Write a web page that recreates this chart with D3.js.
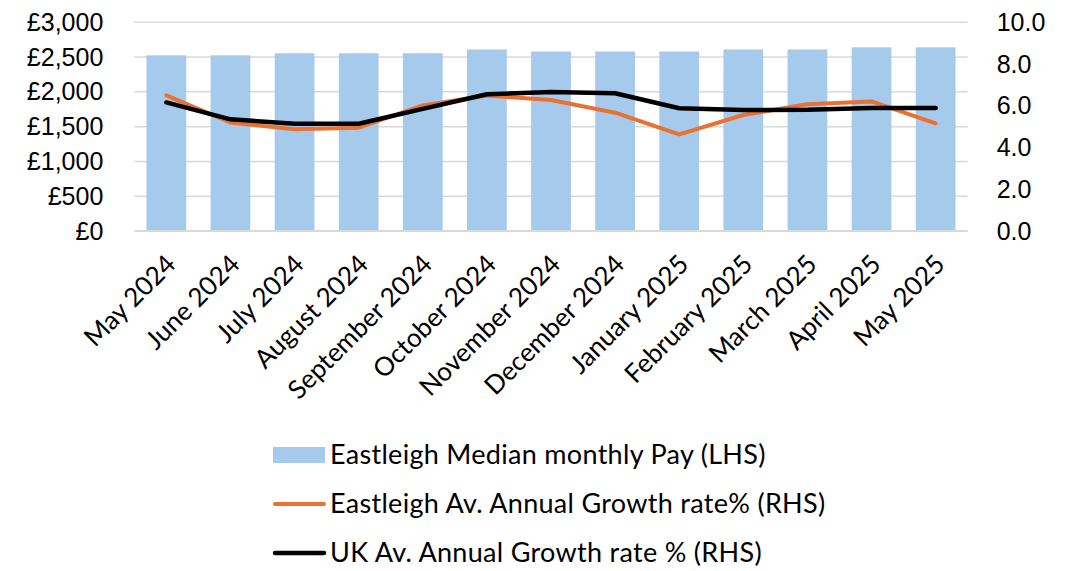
<!DOCTYPE html>
<html>
<head>
<meta charset="utf-8">
<script src="https://cdn.jsdelivr.net/npm/d3@7"></script>
<style>
  body { margin: 0; background: #fff; }
  svg { display: block; }
</style>
</head>
<body>
<div id="chart"></div>
<script>
// data
const months = ["May 2024", "June 2024", "July 2024", "August 2024", "September 2024",
  "October 2024", "November 2024", "December 2024", "January 2025", "February 2025",
  "March 2025", "April 2025", "May 2025"];
const medianPay = [2525, 2525, 2555, 2555, 2555, 2610, 2580, 2580, 2580, 2610, 2610, 2640, 2640];
const eastleighGrowth = [6.5, 5.2, 4.87, 4.95, 6.02, 6.49, 6.28, 5.67, 4.63, 5.56, 6.07, 6.21, 5.16];
const ukGrowth = [6.16, 5.35, 5.14, 5.14, 5.85, 6.55, 6.66, 6.6, 5.88, 5.8, 5.81, 5.89, 5.89];
const leftTicks = [0, 500, 1000, 1500, 2000, 2500, 3000];
const rightTicks = [0, 2, 4, 6, 8, 10];
const legendNames = ["Eastleigh Median monthly Pay (LHS)",
  "Eastleigh Av. Annual Growth rate% (RHS)",
  "UK Av. Annual Growth rate % (RHS)"];

const W = 1071, H = 571;
const margin = {top: 22.3, right: 103.3, bottom: 340, left: 134.3};
const width = W - margin.left - margin.right;
const height = H - margin.top - margin.bottom;

const barColor = "#A6CAEC", orange = "#E97132", gridColor = "#D9D9D9";

let svg = d3.select("#chart").append("svg")
  .attr("width", W)
  .attr("height", H);

let g = svg.append("g")
  .attr("transform", `translate(${margin.left}, ${margin.top})`);

let x = d3.scaleBand()
  .domain(months)
  .range([0, width])
  .paddingInner(0.38)
  .paddingOuter(0.19);

let yL = d3.scaleLinear().domain([0, 3000]).range([height, 0]);
let yR = d3.scaleLinear().domain([0, 10]).range([height, 0]);

// gridlines
g.append("g")
  .selectAll("line")
  .data(leftTicks)
  .enter()
  .append("line")
  .attr("x1", 0)
  .attr("x2", width)
  .attr("y1", d => yL(d))
  .attr("y2", d => yL(d))
  .attr("stroke", gridColor)
  .attr("stroke-width", d => d === 0 ? 2 : 1.5);

// left axis
let leftAxis = g.append("g")
  .attr("transform", "translate(-31, 0)")
  .call(d3.axisLeft(yL).tickValues(leftTicks).tickSize(0).tickPadding(0)
    .tickFormat(d => "£" + d3.format(",")(d)));
leftAxis.select(".domain").remove();
leftAxis.selectAll("text")
  .attr("font-family", "Liberation Sans, Arial, sans-serif")
  .attr("font-size", "25px")
  .attr("fill", "#000");

// right axis
let rightAxis = g.append("g")
  .attr("transform", `translate(${width + 29}, 0)`)
  .call(d3.axisRight(yR).tickValues(rightTicks).tickSize(0).tickPadding(0)
    .tickFormat(d3.format(".1f")));
rightAxis.select(".domain").remove();
rightAxis.selectAll("text")
  .attr("font-family", "Liberation Sans, Arial, sans-serif")
  .attr("font-size", "25px")
  .attr("fill", "#000");

// bars
g.selectAll(".bar")
  .data(months)
  .enter()
  .append("rect")
  .attr("class", "bar")
  .attr("x", d => x(d))
  .attr("width", x.bandwidth())
  .attr("y", (d, i) => yL(medianPay[i]))
  .attr("height", (d, i) => height - yL(medianPay[i]) - 1)
  .attr("fill", barColor);

// lines
let line = d3.line()
  .x((d, i) => x(months[i]) + x.bandwidth() / 2)
  .y(d => yR(d));

g.append("path")
  .datum(eastleighGrowth)
  .attr("d", line)
  .attr("fill", "none")
  .attr("stroke", orange)
  .attr("stroke-width", 4)
  .attr("stroke-linecap", "round")
  .attr("stroke-linejoin", "round");

g.append("path")
  .datum(ukGrowth)
  .attr("d", line)
  .attr("fill", "none")
  .attr("stroke", "#000")
  .attr("stroke-width", 4.5)
  .attr("stroke-linecap", "round")
  .attr("stroke-linejoin", "round");

// x labels, rotated
g.append("g")
  .selectAll("text")
  .data(months)
  .enter()
  .append("text")
  .attr("transform", d => `translate(${x(d) + x.bandwidth() / 2 - 2}, ${height + 22}) rotate(-45)`)
  .attr("text-anchor", "end")
  .attr("dy", "0.7em")
  .attr("font-family", "Lato, sans-serif")
  .attr("font-size", "26px")
  .attr("fill", "#000")
  .text(d => d);

// legend
let legend = svg.append("g")
  .attr("font-family", "Lato, sans-serif")
  .attr("font-size", "27px")
  .attr("letter-spacing", "0.3px");

legendNames.forEach((name, i) => {
  let ly = 455 + i * 49;
  if (i === 0) {
    legend.append("rect")
      .attr("x", 273).attr("y", ly - 8)
      .attr("width", 52).attr("height", 16)
      .attr("fill", barColor);
  } else {
    legend.append("line")
      .attr("x1", 275).attr("x2", 324)
      .attr("y1", ly).attr("y2", ly)
      .attr("stroke", i === 1 ? orange : "#000")
      .attr("stroke-width", i === 1 ? 4 : 4.5)
      .attr("stroke-linecap", "round");
  }
  legend.append("text")
    .attr("x", 330)
    .attr("y", ly)
    .attr("dy", "0.35em")
    .attr("fill", "#000")
    .text(name);
});
</script>
</body>
</html>
